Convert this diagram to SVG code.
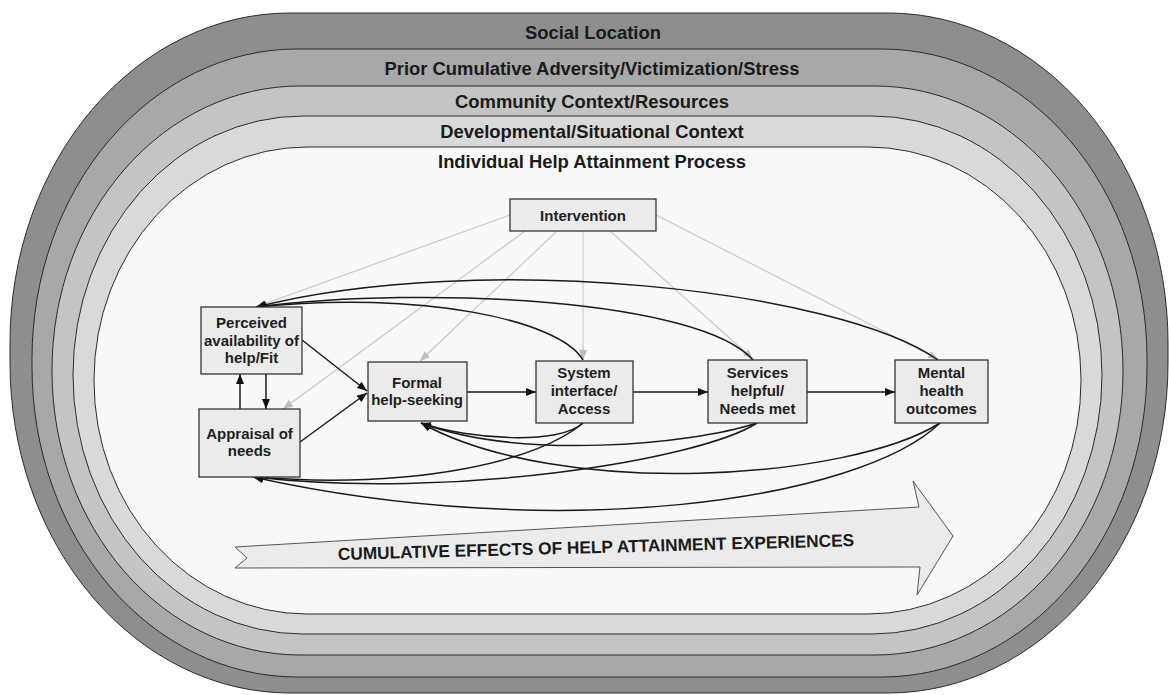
<svg xmlns="http://www.w3.org/2000/svg" width="1169" height="695" viewBox="0 0 1169 695">
<defs>
<style>
.ring{stroke:#2b2b2b;stroke-width:1}
.band{font-family:"Liberation Sans",Arial,sans-serif;font-weight:bold;font-size:18.4px;fill:#1a1a1a;text-anchor:middle}
.box rect{fill:#ebebeb;stroke:#333;stroke-width:1.3}
.box text{font-family:"Liberation Sans",Arial,sans-serif;font-weight:bold;font-size:15px;fill:#1e1e1e;text-anchor:middle}
.blk{fill:none;stroke:#1a1a1a;stroke-width:1.5;marker-end:url(#ah)}
.gry{fill:none;stroke:#c6c6c6;stroke-width:1.1;marker-end:url(#ag)}
.big{fill:#ebebeb;stroke:#555;stroke-width:1}
.bigt{font-family:"Liberation Sans",Arial,sans-serif;font-weight:bold;font-size:17.3px;fill:#1a1a1a}
</style>
<marker id="ah" viewBox="0 0 10 8" refX="10" refY="4" markerWidth="10" markerHeight="8" markerUnits="userSpaceOnUse" orient="auto"><path d="M0,0L10,4L0,8z" fill="#111"/></marker>
<marker id="ag" viewBox="0 0 10 8" refX="10" refY="4" markerWidth="10" markerHeight="8" markerUnits="userSpaceOnUse" orient="auto"><path d="M0,0L10,4L0,8z" fill="#bdbdbd"/></marker>
</defs>
<rect width="1169" height="695" fill="#ffffff"/>
<g id="layer-social-location">
<rect class="ring" x="10" y="13" width="1158" height="680" rx="280" ry="330" fill="#8e8e8e"/>
<text class="band" x="593" y="38.5">Social Location</text>
</g>
<g id="layer-prior-adversity">
<rect class="ring" x="32" y="49" width="1115" height="628" rx="265" ry="310" fill="#a7a8a7"/>
<text class="band" x="592" y="75">Prior Cumulative Adversity/Victimization/Stress</text>
</g>
<g id="layer-community">
<rect class="ring" x="52" y="86" width="1071" height="569" rx="248" ry="284" fill="#c4c4c4"/>
<text class="band" x="592" y="107.5">Community Context/Resources</text>
</g>
<g id="layer-developmental">
<rect class="ring" x="73" y="116" width="1029" height="518" rx="230" ry="259" fill="#d9d9d9"/>
<text class="band" x="592" y="138">Developmental/Situational Context</text>
</g>
<g id="layer-individual">
<rect class="ring" x="94" y="147" width="987" height="467" rx="213" ry="233" fill="#f7f8f8"/>
<text class="band" x="592" y="167.5">Individual Help Attainment Process</text>
</g>
<g id="cumulative-arrow">
<polygon class="big" points="235,547 919,507 913,481 953,536 917,595 920,567 235,568 247,558"/>
<text class="bigt" transform="translate(338,560) rotate(-1.55)">CUMULATIVE EFFECTS OF HELP ATTAINMENT EXPERIENCES</text>
</g>
<g id="connectors">
<path class="gry" d="M510,215 L256,307"/>
<path class="gry" d="M525,231 L283,409"/>
<path class="gry" d="M557,231 L420,361"/>
<path class="gry" d="M583,231 L583,360"/>
<path class="gry" d="M610,231 L753,359"/>
<path class="gry" d="M656,215 L938,359"/>
<path class="blk" d="M467,392 L536,392"/>
<path class="blk" d="M633,392 L708,392"/>
<path class="blk" d="M807,392 L895,392"/>
<path class="blk" d="M240,409 L240,374"/>
<path class="blk" d="M266,374 L266,409"/>
<path class="blk" d="M302,340 L367,391"/>
<path class="blk" d="M300,442 L367,393"/>
<path class="blk" d="M583,360 C560,320 420,290 256,307"/>
<path class="blk" d="M753,360 C700,300 430,285 256,307"/>
<path class="blk" d="M938,360 C840,290 480,250 256,307"/>
<path class="blk" d="M583,423 C560,445 470,440 421,423"/>
<path class="blk" d="M757,423 C690,445 520,460 421,423"/>
<path class="blk" d="M940,423 C850,480 560,500 421,423"/>
<path class="blk" d="M583,423 C540,460 420,490 253,477"/>
<path class="blk" d="M757,423 C700,460 450,500 253,477"/>
<path class="blk" d="M940,423 C860,500 560,545 253,477"/>
</g>
<g id="node-intervention" class="box">
<rect x="510" y="199" width="146" height="32"/>
<text x="583" y="220.5">Intervention</text>
</g>
<g id="node-perceived" class="box">
<rect x="201" y="307" width="101" height="67"/>
<text x="251.5" y="328">Perceived</text>
<text x="251.5" y="345.5">availability of</text>
<text x="251.5" y="363">help/Fit</text>
</g>
<g id="node-appraisal" class="box">
<rect x="199" y="409" width="101" height="68"/>
<text x="249.5" y="438.7">Appraisal of</text>
<text x="249.5" y="456">needs</text>
</g>
<g id="node-formal" class="box">
<rect x="368" y="362" width="99" height="59"/>
<text x="417" y="387.5">Formal</text>
<text x="417" y="405">help-seeking</text>
</g>
<g id="node-system" class="box">
<rect x="536" y="361" width="97" height="62"/>
<text x="584" y="378">System</text>
<text x="584" y="396">interface/</text>
<text x="584" y="413.7">Access</text>
</g>
<g id="node-services" class="box">
<rect x="708" y="360" width="99" height="63"/>
<text x="757.5" y="378">Services</text>
<text x="757.5" y="396">helpful/</text>
<text x="757.5" y="413.7">Needs met</text>
</g>
<g id="node-mental" class="box">
<rect x="895" y="360" width="93" height="63"/>
<text x="941.5" y="378">Mental</text>
<text x="941.5" y="396">health</text>
<text x="941.5" y="413.7">outcomes</text>
</g>
</svg>
